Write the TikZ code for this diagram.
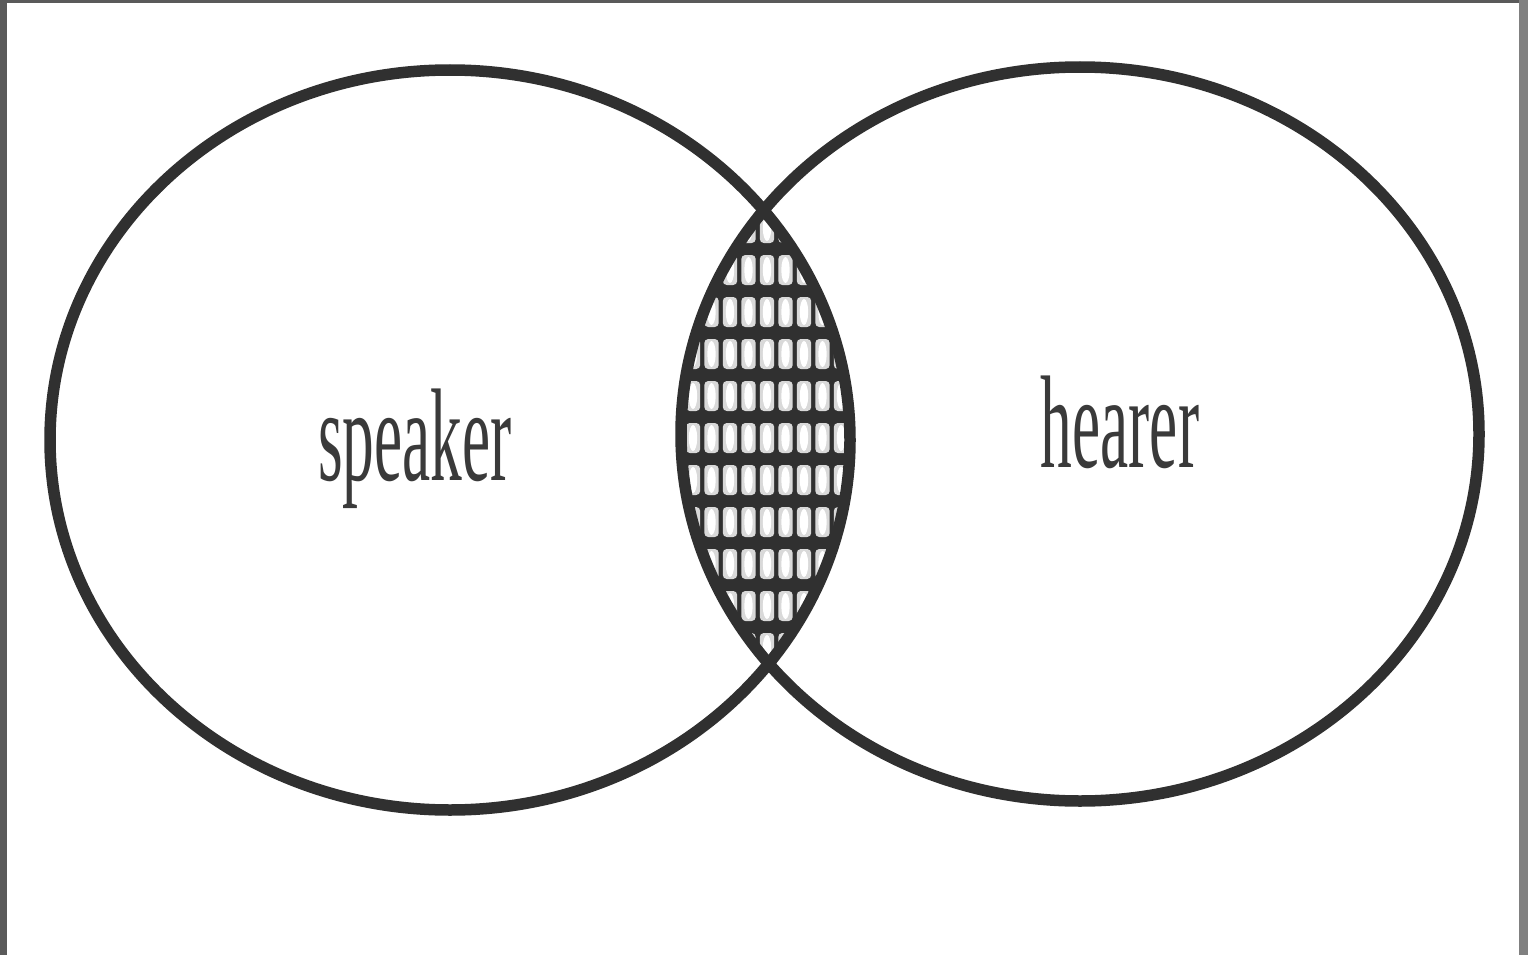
\documentclass[tikz,border=0pt]{standalone}
\usepackage{fontspec}
\setmainfont{Liberation Serif}
\definecolor{ink}{HTML}{303030}
\definecolor{txt}{HTML}{3A3A3A}
\definecolor{frameL}{HTML}{5A5A5A}
\definecolor{frameR}{HTML}{808080}
\tikzset{
  ring/.style={draw=ink, line width=11.5pt},
  label/.style={font=\fontsize{132}{132}\selectfont, text=txt, xscale=0.48, anchor=base, inner sep=0pt},
  cell/.style={fill=gray!30, rounded corners=4pt},
  hole/.style={fill=white},
}
\begin{document}
\begin{tikzpicture}[x=1pt,y=-1pt]
\useasboundingbox (0,0) rectangle (1528,955);
\fill[white] (0,0) rectangle (1528,955);
% frame strips
\fill[frameL] (0,0) rectangle (7,955);
\fill[frameL] (0,0) rectangle (1528,3);
\fill[frameR] (1519,0) rectangle (1528,955);
% hatched lens
\begin{scope}
  \clip (450,440) ellipse [x radius=400pt, y radius=370pt];
  \clip (1080,434) ellipse [x radius=399pt, y radius=367pt];
  \fill[ink] (660,180) rectangle (870,700);
  \foreach \r in {-5,...,5} {
    \foreach \c in {-5,...,5} {
      \fill[cell] ({767+18.5*\c-7.2},{438+42*\r-15}) rectangle ({767+18.5*\c+7.2},{438+42*\r+15});
      \fill[hole] ({767+18.5*\c},{438+42*\r}) ellipse [x radius=4.2pt, y radius=13pt];
    }
  }
\end{scope}
% circles
\draw[ring] (450,440) ellipse [x radius=400pt, y radius=370pt];
\draw[ring] (1080,434) ellipse [x radius=399pt, y radius=367pt];
% labels
\node[label] (speaker) at (415,480) {speaker};
\node[label] (hearer) at (1120,467) {hearer};
\end{tikzpicture}
\end{document}
